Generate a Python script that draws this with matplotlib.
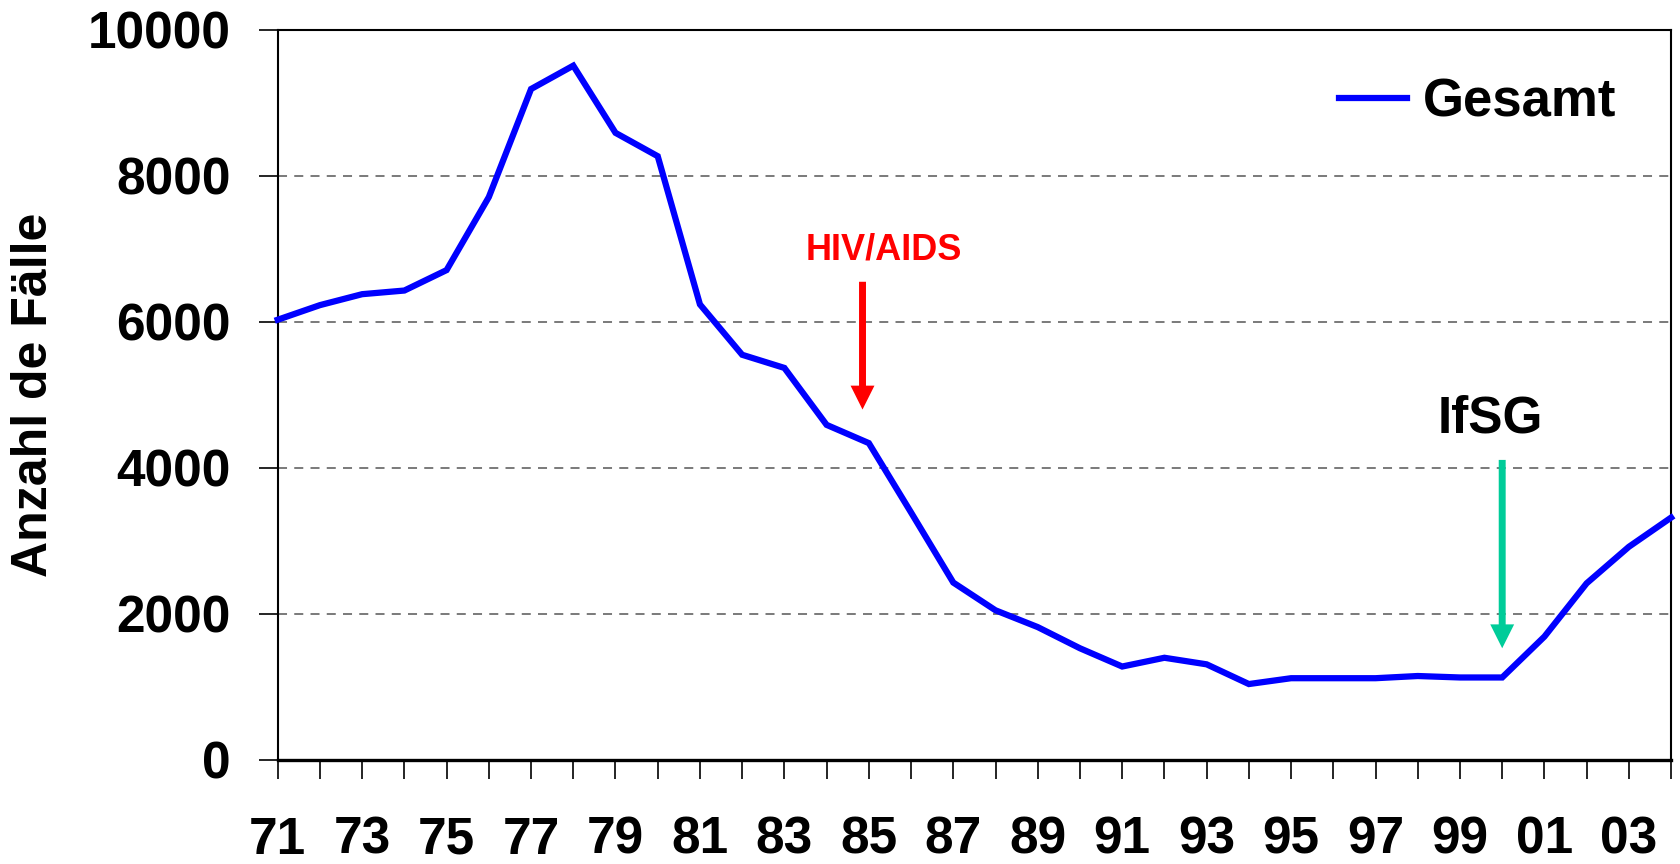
import matplotlib
matplotlib.use('Agg')
import matplotlib.pyplot as plt
from matplotlib.ticker import FixedLocator

plt.rcParams['font.family'] = ['Liberation Sans', 'DejaVu Sans']
plt.rcParams['font.weight'] = 'bold'

# Jahre 1971 - 2004, Anzahl der Fälle
years = list(range(1971, 2005))
cases = [6030, 6230, 6380, 6430, 6710, 7710, 9190, 9510, 8590, 8270,
         6240, 5550, 5370, 4590, 4340, 3390, 2430, 2050, 1820, 1530,
         1280, 1400, 1310, 1040, 1120, 1120, 1120, 1150, 1130, 1130,
         1690, 2420, 2920, 3320]
y_ticks = [0, 2000, 4000, 6000, 8000, 10000]
series_label = 'Gesamt'
y_label = 'Anzahl de Fälle'

# annotations: text, text position, arrow start, arrow tip
hiv_text, hiv_text_xy = 'HIV/AIDS', (1985.35, 6990)
hiv_arrow = ((1984.85, 6550), (1984.85, 4800))
ifsg_text, ifsg_text_xy = 'IfSG', (1999.72, 4670)
ifsg_arrow = ((2000, 4110), (2000, 1530))

ARROW = 'simple,head_length=0.86,head_width=0.86,tail_width=0.25'


def main():
    fig = plt.figure(figsize=(16.8, 8.64), dpi=100)
    ax = fig.add_axes([0.1653, 0.1204, 0.8294, 0.845])

    ax.plot(years, cases, color='#0000FF', lw=4.5, label=series_label,
            solid_joinstyle='miter', clip_on=False, zorder=3)

    ax.set_xlim(years[0], years[-1])
    ax.set_ylim(0, 10000)

    ax.set_xticks(years)
    ax.set_xticklabels([f'{y % 100:02d}' if y % 2 == 1 else '' for y in years])
    ax.yaxis.set_major_locator(FixedLocator(y_ticks))
    ax.set_yticklabels([str(v) for v in y_ticks])

    ax.tick_params(axis='both', direction='out', length=14, width=1.2,
                   labelsize=37, colors='black')
    ax.tick_params(axis='x', pad=26)
    ax.tick_params(axis='y', pad=20)

    for v in y_ticks[1:-1]:
        ax.axhline(v, color='#707070', lw=1.3, ls=(0, (5, 4)), zorder=1)

    for side in ['left', 'right', 'top']:
        ax.spines[side].set_linewidth(1.5)
    ax.spines['bottom'].set_linewidth(2.4)

    ax.set_ylabel(y_label, fontsize=36, fontweight='bold', labelpad=22)

    ax.legend(loc='center right', bbox_to_anchor=(0.995, 0.9),
              frameon=False, fontsize=38, handlelength=1.3,
              handletextpad=0.3)

    ax.text(*hiv_text_xy, hiv_text, color='#FF0000', fontsize=26,
            fontweight='bold', ha='center', va='center')
    ax.annotate('', xy=hiv_arrow[1], xytext=hiv_arrow[0],
                arrowprops=dict(arrowstyle=ARROW, fc='#FF0000', ec='none', lw=0,
                                shrinkA=0, shrinkB=0, mutation_scale=20))

    ax.text(*ifsg_text_xy, ifsg_text, color='black', fontsize=37,
            fontweight='bold', ha='center', va='center')
    ax.annotate('', xy=ifsg_arrow[1], xytext=ifsg_arrow[0],
                arrowprops=dict(arrowstyle=ARROW, fc='#00CC99', ec='none', lw=0,
                                shrinkA=0, shrinkB=0, mutation_scale=20))

    fig.savefig('out.png', dpi=100)


if __name__ == '__main__':
    main()
